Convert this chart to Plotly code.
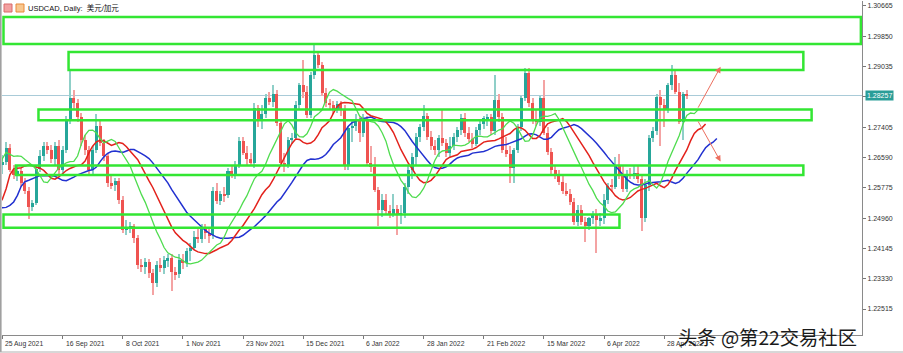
import numpy as np
import pandas as pd
import plotly.graph_objects as go

# ---------------- DATA ----------------
# Warm-up daily bars (26 Jul - 24 Aug 2021), used only to seed the Alligator indicator
warm_open = [1.2560, 1.2540, 1.2590, 1.2510, 1.2460, 1.2475, 1.2530, 1.2550, 1.2570, 1.2530,
             1.2545, 1.2560, 1.2520, 1.2485, 1.2510, 1.2500, 1.2560, 1.2630, 1.2690, 1.2820,
             1.2830, 1.2660]
warm_high = [1.2600, 1.2620, 1.2600, 1.2520, 1.2490, 1.2540, 1.2570, 1.2590, 1.2580, 1.2560,
             1.2590, 1.2570, 1.2530, 1.2530, 1.2530, 1.2580, 1.2640, 1.2700, 1.2860, 1.2950,
             1.2840, 1.2690]
warm_low = [1.2520, 1.2530, 1.2500, 1.2430, 1.2420, 1.2460, 1.2520, 1.2500, 1.2500, 1.2490,
            1.2530, 1.2490, 1.2470, 1.2470, 1.2480, 1.2490, 1.2550, 1.2600, 1.2680, 1.2800,
            1.2640, 1.2600]
warm_close = [1.2540, 1.2590, 1.2510, 1.2460, 1.2475, 1.2530, 1.2550, 1.2570, 1.2530, 1.2545,
              1.2560, 1.2520, 1.2485, 1.2510, 1.2500, 1.2560, 1.2630, 1.2690, 1.2820, 1.2830,
              1.2660, 1.2640]

# Displayed daily bars, 25 Aug 2021 - 6 May 2022
bar_open = [
    1.2640, 1.2648, 1.2684, 1.2625, 1.2612, 1.2622, 1.2590, 1.2570, 1.2527, 1.2536,
    1.2628, 1.2662, 1.2689, 1.2680, 1.2655, 1.2690, 1.2625, 1.2680, 1.2760, 1.2818,
    1.2806, 1.2769, 1.2706, 1.2680, 1.2625, 1.2680, 1.2745, 1.2698, 1.2662, 1.2590,
    1.2585, 1.2595, 1.2545, 1.2464, 1.2470, 1.2474, 1.2442, 1.2370, 1.2365, 1.2378,
    1.2348, 1.2321, 1.2370, 1.2362, 1.2383, 1.2388, 1.2350, 1.2345, 1.2383, 1.2375,
    1.2407, 1.2416, 1.2445, 1.2440, 1.2470, 1.2455, 1.2450, 1.2569, 1.2543, 1.2560,
    1.2558, 1.2623, 1.2615, 1.2639, 1.2704, 1.2670, 1.2655, 1.2644, 1.2792, 1.2760,
    1.2775, 1.2819, 1.2808, 1.2830, 1.2752, 1.2644, 1.2640, 1.2705, 1.2712, 1.2800,
    1.2854, 1.2835, 1.2772, 1.2881, 1.2935, 1.2908, 1.2833, 1.2806, 1.2800, 1.2790,
    1.2803, 1.2790, 1.2636, 1.2738, 1.2745, 1.2760, 1.2725, 1.2760, 1.2644, 1.2634,
    1.2572, 1.2518, 1.2545, 1.2515, 1.2508, 1.2520, 1.2505, 1.2510, 1.2580, 1.2625,
    1.2660, 1.2714, 1.2741, 1.2770, 1.2714, 1.2690, 1.2678, 1.2712, 1.2698, 1.2670,
    1.2690, 1.2714, 1.2732, 1.2765, 1.2724, 1.2710, 1.2695, 1.2732, 1.2750, 1.2764,
    1.2768, 1.2730, 1.2814, 1.2768, 1.2679, 1.2668, 1.2632, 1.2678, 1.2741, 1.2818,
    1.2886, 1.2806, 1.2760, 1.2755, 1.2819, 1.2725, 1.2673, 1.2625, 1.2611, 1.2593,
    1.2570, 1.2562, 1.2539, 1.2486, 1.2517, 1.2486, 1.2474, 1.2495, 1.2504, 1.2490,
    1.2495, 1.2545, 1.2583, 1.2580, 1.2638, 1.2610, 1.2575, 1.2615, 1.2608, 1.2618,
    1.2600, 1.2496, 1.2585, 1.2712, 1.2730, 1.2822, 1.2800, 1.2790, 1.2854, 1.2880,
    1.2836, 1.2755, 1.2830]
bar_high = [
    1.2665, 1.2700, 1.2695, 1.2640, 1.2635, 1.2630, 1.2605, 1.2580, 1.2545, 1.2640,
    1.2680, 1.2700, 1.2700, 1.2692, 1.2700, 1.2705, 1.2690, 1.2770, 1.2896, 1.2840,
    1.2815, 1.2780, 1.2720, 1.2690, 1.2690, 1.2775, 1.2760, 1.2710, 1.2670, 1.2610,
    1.2605, 1.2605, 1.2555, 1.2490, 1.2485, 1.2480, 1.2450, 1.2385, 1.2390, 1.2385,
    1.2360, 1.2380, 1.2390, 1.2395, 1.2400, 1.2400, 1.2365, 1.2400, 1.2400, 1.2415,
    1.2430, 1.2460, 1.2470, 1.2480, 1.2480, 1.2470, 1.2580, 1.2590, 1.2570, 1.2580,
    1.2630, 1.2635, 1.2650, 1.2715, 1.2715, 1.2690, 1.2670, 1.2805, 1.2800, 1.2800,
    1.2830, 1.2835, 1.2855, 1.2840, 1.2760, 1.2670, 1.2715, 1.2725, 1.2810, 1.2860,
    1.2920, 1.2850, 1.2890, 1.2964, 1.2945, 1.2915, 1.2845, 1.2815, 1.2810, 1.2810,
    1.2810, 1.2800, 1.2745, 1.2760, 1.2775, 1.2770, 1.2775, 1.2770, 1.2690, 1.2660,
    1.2580, 1.2560, 1.2560, 1.2530, 1.2560, 1.2530, 1.2530, 1.2590, 1.2640, 1.2670,
    1.2725, 1.2750, 1.2800, 1.2780, 1.2730, 1.2705, 1.2720, 1.2787, 1.2710, 1.2715,
    1.2725, 1.2740, 1.2775, 1.2780, 1.2740, 1.2725, 1.2740, 1.2760, 1.2770, 1.2775,
    1.2775, 1.2880, 1.2830, 1.2780, 1.2715, 1.2690, 1.2685, 1.2750, 1.2825, 1.2900,
    1.2900, 1.2820, 1.2790, 1.2825, 1.2868, 1.2740, 1.2685, 1.2640, 1.2625, 1.2610,
    1.2590, 1.2575, 1.2550, 1.2530, 1.2530, 1.2500, 1.2500, 1.2515, 1.2520, 1.2510,
    1.2560, 1.2590, 1.2600, 1.2660, 1.2668, 1.2640, 1.2625, 1.2630, 1.2640, 1.2640,
    1.2615, 1.2600, 1.2720, 1.2740, 1.2830, 1.2840, 1.2815, 1.2860, 1.2908, 1.2895,
    1.2860, 1.2835, 1.2840]
bar_low = [
    1.2615, 1.2640, 1.2620, 1.2600, 1.2595, 1.2580, 1.2560, 1.2494, 1.2515, 1.2530,
    1.2620, 1.2650, 1.2668, 1.2645, 1.2640, 1.2615, 1.2615, 1.2670, 1.2750, 1.2790,
    1.2755, 1.2690, 1.2665, 1.2610, 1.2615, 1.2670, 1.2690, 1.2650, 1.2580, 1.2575,
    1.2570, 1.2535, 1.2455, 1.2450, 1.2455, 1.2430, 1.2360, 1.2350, 1.2345, 1.2335,
    1.2290, 1.2310, 1.2350, 1.2345, 1.2365, 1.2300, 1.2330, 1.2335, 1.2360, 1.2365,
    1.2380, 1.2410, 1.2430, 1.2430, 1.2440, 1.2430, 1.2440, 1.2535, 1.2530, 1.2540,
    1.2550, 1.2605, 1.2600, 1.2630, 1.2665, 1.2640, 1.2635, 1.2630, 1.2740, 1.2735,
    1.2765, 1.2800, 1.2795, 1.2745, 1.2635, 1.2620, 1.2630, 1.2695, 1.2705, 1.2790,
    1.2820, 1.2765, 1.2765, 1.2870, 1.2900, 1.2825, 1.2795, 1.2790, 1.2775, 1.2780,
    1.2770, 1.2625, 1.2625, 1.2700, 1.2730, 1.2700, 1.2715, 1.2635, 1.2620, 1.2565,
    1.2475, 1.2500, 1.2505, 1.2495, 1.2500, 1.2450, 1.2480, 1.2495, 1.2560, 1.2600,
    1.2640, 1.2700, 1.2730, 1.2705, 1.2680, 1.2665, 1.2660, 1.2690, 1.2660, 1.2660,
    1.2680, 1.2700, 1.2720, 1.2715, 1.2700, 1.2685, 1.2690, 1.2720, 1.2735, 1.2745,
    1.2720, 1.2720, 1.2755, 1.2670, 1.2660, 1.2590, 1.2590, 1.2670, 1.2730, 1.2810,
    1.2795, 1.2750, 1.2745, 1.2745, 1.2720, 1.2665, 1.2615, 1.2600, 1.2585, 1.2560,
    1.2555, 1.2530, 1.2478, 1.2475, 1.2478, 1.2432, 1.2465, 1.2480, 1.2403, 1.2475,
    1.2480, 1.2535, 1.2565, 1.2575, 1.2600, 1.2565, 1.2565, 1.2600, 1.2600, 1.2590,
    1.2462, 1.2485, 1.2570, 1.2700, 1.2720, 1.2690, 1.2742, 1.2780, 1.2840, 1.2830,
    1.2750, 1.2706, 1.2815]
bar_close = [
    1.2648, 1.2684, 1.2625, 1.2612, 1.2622, 1.2590, 1.2570, 1.2527, 1.2536, 1.2628,
    1.2662, 1.2689, 1.2680, 1.2655, 1.2690, 1.2625, 1.2680, 1.2760, 1.2818, 1.2806,
    1.2769, 1.2706, 1.2680, 1.2625, 1.2680, 1.2745, 1.2698, 1.2662, 1.2590, 1.2585,
    1.2595, 1.2545, 1.2464, 1.2470, 1.2474, 1.2442, 1.2370, 1.2365, 1.2378, 1.2348,
    1.2321, 1.2370, 1.2362, 1.2383, 1.2388, 1.2350, 1.2345, 1.2383, 1.2375, 1.2407,
    1.2416, 1.2445, 1.2440, 1.2470, 1.2455, 1.2450, 1.2569, 1.2543, 1.2560, 1.2558,
    1.2623, 1.2615, 1.2639, 1.2704, 1.2670, 1.2655, 1.2644, 1.2792, 1.2760, 1.2775,
    1.2819, 1.2808, 1.2830, 1.2752, 1.2644, 1.2640, 1.2705, 1.2712, 1.2800, 1.2854,
    1.2835, 1.2772, 1.2881, 1.2935, 1.2908, 1.2833, 1.2806, 1.2800, 1.2790, 1.2803,
    1.2790, 1.2636, 1.2738, 1.2745, 1.2760, 1.2725, 1.2760, 1.2644, 1.2634, 1.2572,
    1.2518, 1.2545, 1.2515, 1.2508, 1.2520, 1.2505, 1.2510, 1.2580, 1.2625, 1.2660,
    1.2714, 1.2741, 1.2770, 1.2714, 1.2690, 1.2678, 1.2712, 1.2698, 1.2670, 1.2690,
    1.2714, 1.2732, 1.2765, 1.2724, 1.2710, 1.2695, 1.2732, 1.2750, 1.2764, 1.2768,
    1.2730, 1.2814, 1.2768, 1.2679, 1.2668, 1.2632, 1.2678, 1.2741, 1.2818, 1.2886,
    1.2806, 1.2760, 1.2755, 1.2819, 1.2725, 1.2673, 1.2625, 1.2611, 1.2593, 1.2570,
    1.2562, 1.2539, 1.2486, 1.2517, 1.2486, 1.2474, 1.2495, 1.2504, 1.2490, 1.2495,
    1.2545, 1.2583, 1.2580, 1.2638, 1.2610, 1.2575, 1.2615, 1.2608, 1.2618, 1.2600,
    1.2496, 1.2585, 1.2712, 1.2730, 1.2822, 1.2800, 1.2790, 1.2854, 1.2880, 1.2836,
    1.2755, 1.2830, 1.28257]

first_date = "2021-07-26"          # first warm-up bar
shown_from = "2021-08-25"          # first bar on screen
tick_labels = ["25 Aug 2021", "16 Sep 2021", "8 Oct 2021", "1 Nov 2021", "23 Nov 2021",
               "15 Dec 2021", "6 Jan 2022", "28 Jan 2022", "21 Feb 2022", "15 Mar 2022",
               "6 Apr 2022", "28 Apr 2022"]
price_ticks = [1.30665, 1.29850, 1.29035, 1.28220, 1.27405, 1.26590, 1.25775,
               1.24960, 1.24145, 1.23330, 1.22515]

# hand-drawn zones (price bottom/top, start/end in bar units)
zone_lo = [1.29643, 1.28945, 1.27590, 1.26120, 1.24700]
zone_hi = [1.30369, 1.29425, 1.27880, 1.26375, 1.25060]
zone_start = [0.3, 17.6, 9.6, 3.6, 0.3]
zone_end = [228.3, 213.0, 215.2, 213.0, 164.1]
# hand-drawn arrows
arrow_from_bar = [184.8, 184.8]
arrow_from_price = [1.27890, 1.27600]
arrow_to_bar = [191.0, 191.0]
arrow_to_price = [1.29030, 1.26480]

# ---------------- BUILD ----------------
o = np.array(warm_open + bar_open)
h = np.array(warm_high + bar_high)
l = np.array(warm_low + bar_low)
c = np.array(warm_close + bar_close)
assert len(o) == len(h) == len(l) == len(c)

dates = pd.bdate_range(first_date, periods=len(c))
i0 = dates.get_loc(pd.Timestamp(shown_from))
x = np.arange(len(c)) - i0
tick_pos = [dates.get_loc(pd.Timestamp(pd.to_datetime(t, format="%d %b %Y"))) - i0 for t in tick_labels]


def smma(vals, n):
    out = np.full(len(vals), np.nan)
    out[n - 1] = vals[:n].mean()
    for t in range(n, len(vals)):
        out[t] = (out[t - 1] * (n - 1) + vals[t]) / n
    return out


med = (h + l) / 2
jaw = smma(med, 13)
teeth = smma(med, 8)
lips = smma(med, 5)

UP, DN = "#26a69a", "#ef5350"
UPW, DNW = "#8fcfc8", "#f4a3a3"
up = c >= o

fig = go.Figure()
fig.add_trace(go.Bar(x=x, y=h - l, base=l, width=0.28,
                     marker=dict(color=[UPW if u else DNW for u in up], line_width=0),
                     hoverinfo="skip", showlegend=False))
body_lo = np.minimum(o, c)
body_h = np.abs(c - o)
min_h = 0.00025
body_base = np.where(body_h < min_h, (o + c) / 2 - min_h / 2, body_lo)
fig.add_trace(go.Bar(x=x, y=np.maximum(body_h, min_h), base=body_base, width=0.8,
                     marker=dict(color=[UP if u else DN for u in up], line_width=0),
                     hoverinfo="skip", showlegend=False))

for vals, sh, col, w in [(jaw, 8, "#2231d0", 1.5), (teeth, 5, "#e3221c", 1.5), (lips, 3, "#4fdc4f", 1.3)]:
    fig.add_trace(go.Scatter(x=x + sh, y=vals, mode="lines", line=dict(color=col, width=w),
                             hoverinfo="skip", showlegend=False))

shapes = []
for lo_, hi_, s_, e_ in zip(zone_lo, zone_hi, zone_start, zone_end):
    shapes.append(dict(type="rect", xref="x", yref="y", x0=s_, x1=e_, y0=lo_, y1=hi_,
                       line=dict(color="#33e633", width=2.5), fillcolor="rgba(0,0,0,0)"))
last = bar_close[-1]
shapes.append(dict(type="line", xref="paper", yref="y", x0=0, x1=1, y0=last, y1=last,
                   line=dict(color="#a9cbd8", width=1), layer="below"))

W, H = 903, 353
ML, MR, MT, MB = 2, 41, 1, 18
PW, PH = W - ML - MR, H - MT - MB


def px(xp):
    return (xp - ML) / PW


def py(yp):
    return (H - MB - yp) / PH


# outer frame
shapes.append(dict(type="line", xref="paper", yref="paper", x0=px(0.8), x1=px(0.8), y0=py(352), y1=py(0),
                   line=dict(color="#a0a0a0", width=1.6)))
shapes.append(dict(type="line", xref="paper", yref="paper", x0=px(0), x1=px(903), y0=py(352), y1=py(352),
                   line=dict(color="#b0b0b0", width=1)))
# title icons
shapes.append(dict(type="rect", xref="paper", yref="paper", x0=px(4), x1=px(12), y0=py(12), y1=py(4),
                   line=dict(color="#d86a6a", width=1), fillcolor="#f3a0a0"))
shapes.append(dict(type="rect", xref="paper", yref="paper", x0=px(16), x1=px(24), y0=py(12), y1=py(4),
                   line=dict(color="#e88a3a", width=1), fillcolor="#f8c890"))

annotations = []
for tp, tl in zip(tick_pos, tick_labels):
    annotations.append(dict(x=tp, y=0, xref="x", yref="paper", yanchor="top", xanchor="left",
                            xshift=1, yshift=-3, text=tl, showarrow=False,
                            font=dict(family="Liberation Sans, Arial", size=6.8, color="#333")))
for fb, fp, tb, tp_ in zip(arrow_from_bar, arrow_from_price, arrow_to_bar, arrow_to_price):
    annotations.append(dict(x=tb, y=tp_, ax=fb, ay=fp, xref="x", yref="y", axref="x", ayref="y",
                            text="", showarrow=True, arrowhead=2, arrowsize=1.2, arrowwidth=1,
                            arrowcolor="#ec6e5e"))
annotations.append(dict(x=1, y=last, xref="paper", yref="y", xanchor="left", yanchor="middle",
                        xshift=3, text=f"{last:.5f}", showarrow=False, bgcolor="#2a9d98",
                        borderpad=1, font=dict(family="Liberation Sans, Arial", size=7, color="white")))
annotations.append(dict(x=px(26), y=py(8), xref="paper", yref="paper", xanchor="left", yanchor="middle",
                        text="USDCAD, Daily:  美元/加元", showarrow=False,
                        font=dict(family="Liberation Sans, Noto Sans CJK SC", size=7.5, color="#111")))
annotations.append(dict(x=px(676), y=py(337), xref="paper", yref="paper", xanchor="left", yanchor="middle",
                        text="头条 @第22交易社区", showarrow=False,
                        font=dict(family="Noto Sans CJK SC", size=19.3, color="#1a1a1a")))

fig.update_layout(
    width=W, height=H, margin=dict(l=ML, r=MR, t=MT, b=MB),
    paper_bgcolor="white", plot_bgcolor="white", barmode="overlay", bargap=0,
    shapes=shapes, annotations=annotations, showlegend=False,
    xaxis=dict(range=[-0.1, 228.6], tickvals=tick_pos, ticks="outside", ticklen=3,
               tickcolor="#777", showticklabels=False, showgrid=False, zeroline=False,
               showline=True, linecolor="#8a8a8a", linewidth=1),
    yaxis=dict(range=[1.21816, 1.30799], side="right", tickvals=price_ticks,
               ticktext=[f"{v:.5f}" for v in price_ticks], ticks="outside", ticklen=3,
               tickcolor="#777", showgrid=False, zeroline=False, showline=True,
               linecolor="#8a8a8a", linewidth=1,
               tickfont=dict(family="Liberation Sans, Arial", size=7, color="#333")),
)

fig.write_html("out.html")
